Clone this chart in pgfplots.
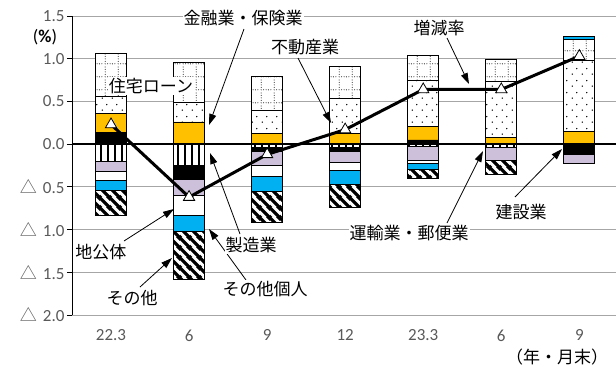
\documentclass[border=0pt]{standalone}
\usepackage{fontspec}
\setmainfont{Carlito}
\newfontfamily\jp{Noto Sans CJK JP}
\usepackage{pgfplots}
\pgfplotsset{compat=1.18}
\usetikzlibrary{patterns,arrows.meta}

\definecolor{cOrange}{HTML}{FFC000}
\definecolor{cBlue}{HTML}{00B0F0}
\definecolor{cLav}{HTML}{CCC0DA}
\definecolor{cGray}{HTML}{595959}
\definecolor{cGrid}{HTML}{A6A6A6}

\pgfdeclarepatternformonly{vlinesX}{\pgfqpoint{0pt}{0pt}}{\pgfqpoint{7pt}{7pt}}{\pgfqpoint{7pt}{7pt}}{%
  \pgfsetlinewidth{2.1pt}%
  \pgfpathmoveto{\pgfqpoint{3.5pt}{-1pt}}\pgfpathlineto{\pgfqpoint{3.5pt}{8pt}}\pgfusepath{stroke}}

\pgfdeclarepatternformonly{stripesX}{\pgfqpoint{0pt}{0pt}}{\pgfqpoint{10pt}{10pt}}{\pgfqpoint{10pt}{10pt}}{%
  \pgfsetlinewidth{3.6pt}%
  \pgfpathmoveto{\pgfqpoint{-1pt}{11pt}}\pgfpathlineto{\pgfqpoint{11pt}{-1pt}}%
  \pgfpathmoveto{\pgfqpoint{-2pt}{2pt}}\pgfpathlineto{\pgfqpoint{2pt}{-2pt}}%
  \pgfpathmoveto{\pgfqpoint{8pt}{12pt}}\pgfpathlineto{\pgfqpoint{12pt}{8pt}}%
  \pgfusepath{stroke}}

\pgfdeclarepatternformonly{sdots}{\pgfqpoint{0pt}{0pt}}{\pgfqpoint{10pt}{12pt}}{\pgfqpoint{10pt}{12pt}}{%
  \pgfpathcircle{\pgfqpoint{2.5pt}{3pt}}{0.8pt}%
  \pgfpathcircle{\pgfqpoint{7.5pt}{9pt}}{0.8pt}%
  \pgfusepath{fill}}

\pgfdeclarepatternformonly{dgrid}{\pgfqpoint{0pt}{0pt}}{\pgfqpoint{13pt}{13pt}}{\pgfqpoint{13pt}{13pt}}{%
  \pgfpathcircle{\pgfqpoint{1.3pt}{1.3pt}}{0.55pt}%
  \pgfpathcircle{\pgfqpoint{1.3pt}{3.9pt}}{0.55pt}%
  \pgfpathcircle{\pgfqpoint{1.3pt}{6.5pt}}{0.55pt}%
  \pgfpathcircle{\pgfqpoint{1.3pt}{9.1pt}}{0.55pt}%
  \pgfpathcircle{\pgfqpoint{1.3pt}{11.7pt}}{0.55pt}%
  \pgfpathcircle{\pgfqpoint{3.9pt}{1.3pt}}{0.55pt}%
  \pgfpathcircle{\pgfqpoint{6.5pt}{1.3pt}}{0.55pt}%
  \pgfpathcircle{\pgfqpoint{9.1pt}{1.3pt}}{0.55pt}%
  \pgfpathcircle{\pgfqpoint{11.7pt}{1.3pt}}{0.55pt}%
  \pgfusepath{fill}}

\newcommand\lf{\fontsize{17}{20}\selectfont}
\newcommand\tri{{\jp △}\hspace{6pt}}

\pgfplotsset{
  base/.style={scale only axis, width=544pt, height=299pt,
    xmin=-0.5, xmax=6.47, ymin=-2, ymax=1.5, at={(0,0)}, anchor=south west},
  seg/.style={draw=black, line width=0.7pt},
}

\begin{document}
\begin{tikzpicture}
\path[use as bounding box] (-72pt,-61pt) rectangle (544pt,315pt);

% positive contributions
\begin{axis}[base, ybar stacked, bar width=31pt,
  axis y line*=left, axis x line*=bottom,
  x axis line style={draw=none},
  y axis line style={black, line width=0.8pt, -},
  ytick={-2,-1.5,-1,-0.5,0,0.5,1,1.5},
  yticklabels={\tri 2.0,\tri 1.5,\tri 1.0,\tri 0.5,0.0,0.5,1.0,1.5},
  ymajorgrids, grid style={cGrid, line width=0.8pt},
  xtick={0,1,2,3,4,5,6},
  xticklabels={22.3,6,9,12,23.3,6,9},
  xtick style={draw=none},
  tick align=outside, major tick length=5pt,
  ytick style={black, line width=0.8pt},
  ticklabel style={font=\lf, text=cGray},
  yticklabel style={xshift=1pt},
  xticklabel style={yshift=-6pt},
]
% 建設業 (+)
\addplot[seg, fill=black] coordinates {(0,0.14) (1,0) (2,0) (3,0) (4,0.05) (5,0) (6,0)};
% 金融業・保険業
\addplot[seg, fill=cOrange] coordinates {(0,0.22) (1,0.26) (2,0.13) (3,0.13) (4,0.16) (5,0.08) (6,0.15)};
% 不動産業
\addplot[seg, fill=white, postaction={pattern=sdots}] coordinates {(0,0.20) (1,0.23) (2,0.26) (3,0.41) (4,0.54) (5,0.65) (6,0.83)};
% 住宅ローン
\addplot[seg, fill=white, postaction={pattern=dgrid}] coordinates {(0,0.50) (1,0.47) (2,0.40) (3,0.37) (4,0.29) (5,0.26) (6,0.25)};
% その他個人 (+)
\addplot[seg, fill=cBlue] coordinates {(0,0) (1,0) (2,0) (3,0) (4,0) (5,0) (6,0.03)};
\end{axis}

% negative contributions
\begin{axis}[base, hide axis, ybar stacked, bar width=31pt]
% 製造業
\addplot[seg, fill=white, postaction={pattern=vlinesX}] coordinates {(0,-0.20) (1,-0.25) (2,-0.04) (3,-0.04) (4,-0.03) (5,-0.04) (6,0)};
% 建設業 (-)
\addplot[seg, fill=black] coordinates {(0,0) (1,-0.16) (2,-0.05) (3,-0.05) (4,0) (5,0) (6,-0.12)};
% 運輸業・郵便業
\addplot[seg, fill=cLav] coordinates {(0,-0.12) (1,-0.19) (2,-0.16) (3,-0.12) (4,-0.16) (5,-0.15) (6,-0.11)};
% 地公体
\addplot[seg, fill=white] coordinates {(0,-0.10) (1,-0.23) (2,-0.13) (3,-0.10) (4,-0.03) (5,0) (6,0)};
% その他個人 (-)
\addplot[seg, fill=cBlue] coordinates {(0,-0.12) (1,-0.19) (2,-0.17) (3,-0.16) (4,-0.08) (5,0) (6,0)};
% その他
\addplot[seg, fill=white, postaction={pattern=stripesX}] coordinates {(0,-0.29) (1,-0.56) (2,-0.36) (3,-0.27) (4,-0.10) (5,-0.16) (6,0)};
\end{axis}

% zero line and growth rate
\begin{axis}[base, hide axis, clip=false]
\draw[black, line width=2pt] (axis cs:-0.5,0) -- (axis cs:6.47,0);
\addplot[black, line width=3pt, mark=triangle*, mark size=6.5pt,
  mark options={fill=white, draw=black, line width=0.8pt}]
  coordinates {(0,0.23) (1,-0.62) (2,-0.12) (3,0.17) (4,0.64) (5,0.64) (6,1.03)};
\end{axis}

% annotations (pixel-like coordinates, origin top-left)
\begin{scope}[shift={(-72pt,315pt)}, x=1pt, y=-1pt]
\tikzset{lab/.style={fill=white, inner sep=1pt, font=\jp\lf},
         arr/.style={line width=0.8pt, -{Triangle[length=11pt, width=7pt]}}}
\draw[arr] (244,29) -- (209,125);
\draw[arr] (298,58) -- (331,123);
\draw[arr] (447,38) -- (469,84);
\draw[arr] (515,197) -- (562,149);
\draw[arr] (447,223) -- (483,151);
\draw[arr] (240,234) -- (210,153);
\draw[arr] (246,280) -- (209,229);
\draw[arr] (124,241) -- (174,209);
\draw[arr] (140,287) -- (172,258);
\node[lab] at (243,18) {金融業・保険業};
\node[lab] at (305,47) {不動産業};
\node[lab] at (439,28) {増減率};
\node[lab] at (151,86) {住宅ローン};
\node[lab] at (521,212) {建設業};
\node[lab] at (409,233) {運輸業・郵便業};
\node[lab] at (251,245) {製造業};
\node[lab] at (101,252) {地公体};
\node[lab] at (265,289) {その他個人};
\node[lab] at (132,298) {その他};
\node[font=\fontsize{18}{20}\selectfont, inner sep=0pt] at (45,37) {(\textbf{\%})};
\node[font=\jp\lf, inner sep=0pt] at (557,357) {（年・月末）};
\end{scope}
\end{tikzpicture}
\end{document}
